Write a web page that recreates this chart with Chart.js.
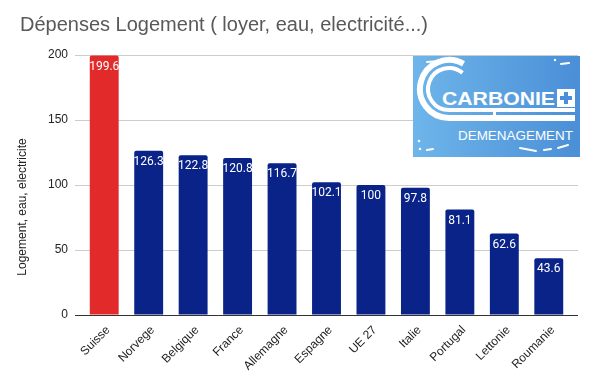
<!DOCTYPE html>
<html>
<head>
<meta charset="utf-8">
<script src="https://cdn.jsdelivr.net/npm/chart.js@4"></script>
<style>
  html, body { margin: 0; padding: 0; background: #fff; }
  #wrap { position: relative; width: 597px; height: 383px; }
  #logo { position: absolute; left: 413px; top: 56px; width: 167px; height: 101px; }
</style>
</head>
<body>
<div id="wrap">
  <canvas id="c" width="597" height="383"></canvas>
  <svg id="logo" width="167" height="101" viewBox="0 0 167 101" xmlns="http://www.w3.org/2000/svg">
    <defs>
      <linearGradient id="g" x1="0" y1="0" x2="1" y2="0">
        <stop offset="0" stop-color="#6eb5ea"/>
        <stop offset="1" stop-color="#4a8fd7"/>
      </linearGradient>
    </defs>
    <rect x="0" y="0" width="167" height="101" fill="url(#g)"/>
    <path d="M50.5 7.9 A29 29 0 1 0 36 62 L162 62" fill="none" stroke="#fff" stroke-width="6"/>
    <path d="M49.5 16.9 A21 21 0 1 0 36 54 L162 54" fill="none" stroke="#fff" stroke-width="4"/>
    <rect x="80" y="54" width="3" height="8" fill="#fff"/>
    <text x="29" y="49" fill="#fff" font-family="Liberation Sans, Arial, sans-serif" font-weight="bold" font-size="19" textLength="113" lengthAdjust="spacingAndGlyphs">CARBONIE</text>
    <rect x="144" y="33" width="18" height="18" fill="#fff"/>
    <rect x="151" y="36" width="4" height="12" fill="#4a8fd7"/>
    <rect x="147" y="40" width="12" height="4" fill="#4a8fd7"/>
    <text x="45" y="84" fill="#fff" font-family="Liberation Sans, Arial, sans-serif" font-size="13" textLength="115" lengthAdjust="spacingAndGlyphs">DEMENAGEMENT</text>
    <path d="M14 6 L26 5" stroke="#fff" stroke-width="2" stroke-linecap="round"/>
    <circle cx="30" cy="4" r="1.2" fill="#fff"/>
    <circle cx="36" cy="4" r="1.2" fill="#fff"/>
    <circle cx="142" cy="4" r="1.2" fill="#fff"/>
    <path d="M148 8 L156 7" stroke="#fff" stroke-width="2" stroke-linecap="round"/>
    <circle cx="6" cy="85" r="1.3" fill="#fff"/>
    <circle cx="7" cy="93" r="1.3" fill="#fff"/>
    <path d="M14 94 L20 93" stroke="#fff" stroke-width="2" stroke-linecap="round"/>
    <path d="M107 92 L123 95" stroke="#fff" stroke-width="2" stroke-linecap="round"/>
    <path d="M131 94 L138 93" stroke="#fff" stroke-width="2" stroke-linecap="round"/>
    <path d="M145 92 L155 89" stroke="#fff" stroke-width="2" stroke-linecap="round"/>
  </svg>
</div>
<script>
const categories = ['Suisse', 'Norvege', 'Belgique', 'France', 'Allemagne', 'Espagne', 'UE 27', 'Italie', 'Portugal', 'Lettonie', 'Roumanie'];
const values = [199.6, 126.3, 122.8, 120.8, 116.7, 102.1, 100, 97.8, 81.1, 62.6, 43.6];
const barColors = ['#e22a2b', '#0a2388', '#0a2388', '#0a2388', '#0a2388', '#0a2388', '#0a2388', '#0a2388', '#0a2388', '#0a2388', '#0a2388'];
const yTicks = [0, 50, 100, 150, 200];
const titleText = 'Dépenses Logement ( loyer, eau, electricité...)';
const yTitleText = 'Logement, eau, electricite';

const gridColor = (v) => v === 0 ? '#333333' : '#cccccc';

const valueLabels = {
  id: 'valueLabels',
  afterDatasetsDraw(chart) {
    const ctx = chart.ctx;
    const meta = chart.getDatasetMeta(0);
    ctx.save();
    ctx.fillStyle = '#ffffff';
    ctx.font = '12px Roboto, "Liberation Sans", sans-serif';
    ctx.textAlign = 'center';
    ctx.textBaseline = 'middle';
    meta.data.forEach((bar, i) => {
      ctx.fillText(String(values[i]), bar.x, bar.y + 11);
    });
    ctx.restore();
  }
};

const gridExtend = {
  id: 'gridExtend',
  beforeDatasetsDraw(chart) {
    const ctx = chart.ctx;
    const y = chart.scales.y;
    const a = chart.chartArea;
    ctx.save();
    ctx.lineWidth = 1;
    yTicks.forEach(v => {
      const py = Math.round(y.getPixelForValue(v)) + 0.5;
      ctx.strokeStyle = gridColor(v);
      ctx.beginPath();
      ctx.moveTo(a.right, py);
      ctx.lineTo(a.right + 7, py);
      ctx.stroke();
    });
    ctx.restore();
  }
};

const yTitle = {
  id: 'yTitle',
  afterDraw(chart) {
    const ctx = chart.ctx;
    ctx.save();
    ctx.translate(23, 207);
    ctx.rotate(-Math.PI / 2);
    ctx.fillStyle = '#222222';
    ctx.font = '12px "Liberation Sans", Arial, sans-serif';
    ctx.textAlign = 'center';
    ctx.textBaseline = 'middle';
    ctx.fillText(yTitleText, 0, 0);
    ctx.restore();
  }
};

new Chart(document.getElementById('c'), {
  type: 'bar',
  data: {
    labels: categories,
    datasets: [{
      data: values,
      backgroundColor: barColors,
      borderRadius: { topLeft: 2, topRight: 2, bottomLeft: 0, bottomRight: 0 },
      borderSkipped: false,
      categoryPercentage: 1,
      barPercentage: 0.65
    }]
  },
  options: {
    responsive: false,
    animation: false,
    devicePixelRatio: 1,
    layout: { padding: { left: 20, right: 26, top: 0, bottom: 0 } },
    plugins: {
      legend: { display: false },
      tooltip: { enabled: false },
      title: {
        display: true,
        text: titleText,
        align: 'start',
        color: '#595959',
        font: { family: '"Liberation Sans", Arial, sans-serif', size: 20, weight: 'normal', lineHeight: 1.2 },
        padding: { top: 13, bottom: 18 }
      }
    },
    scales: {
      x: {
        afterFit: (s) => { s.height = 68; },
        grid: { display: false, drawTicks: false },
        border: { display: false },
        ticks: {
          minRotation: 45,
          maxRotation: 45,
          autoSkip: false,
          padding: 8,
          labelOffset: 4,
          color: '#222222',
          font: { family: '"Liberation Sans", Arial, sans-serif', size: 12 }
        }
      },
      y: {
        min: 0,
        max: 200,
        afterFit: (s) => { s.width = 62; },
        afterBuildTicks: (s) => { s.ticks = yTicks.map(v => ({ value: v })); },
        border: { display: false },
        grid: {
          color: (c) => gridColor(c.tick ? c.tick.value : null),
          tickLength: 7,
          drawTicks: true
        },
        ticks: {
          padding: 7,
          color: '#222222',
          font: { family: '"Liberation Sans", Arial, sans-serif', size: 12 }
        }
      }
    }
  },
  plugins: [valueLabels, gridExtend, yTitle]
});
</script>
</body>
</html>
